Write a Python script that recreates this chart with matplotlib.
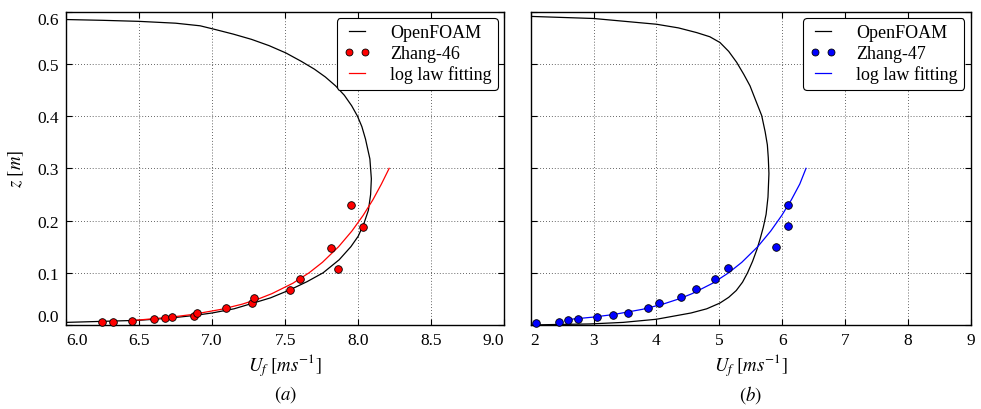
import matplotlib
matplotlib.use("Agg")
import matplotlib.pyplot as plt

# ---------------- data ----------------
# Panel (a)
foam_a_u = [6.00, 6.25, 6.50, 6.70, 6.87, 7.00, 7.15, 7.27, 7.40, 7.53, 7.65, 7.76,
            7.87, 7.95, 8.00, 8.04, 8.07, 8.085, 8.09, 8.08, 8.05, 8.025, 7.995, 7.955,
            7.905, 7.845, 7.775, 7.70, 7.61, 7.505, 7.39, 7.27, 7.146, 7.02, 6.918,
            6.75, 6.50, 6.25, 6.00]
foam_a_z = [0.005, 0.007, 0.009, 0.013, 0.018, 0.023, 0.031, 0.041, 0.052, 0.067, 0.083, 0.100,
            0.125, 0.150, 0.170, 0.195, 0.220, 0.250, 0.280, 0.318, 0.356, 0.380, 0.400, 0.420,
            0.440, 0.458, 0.475, 0.490, 0.505, 0.521, 0.535, 0.547, 0.557, 0.566, 0.573,
            0.578, 0.5815, 0.5835, 0.585]

zhang46_u = [6.244, 6.32, 6.452, 6.60, 6.678, 6.728, 6.877, 6.895, 7.094, 7.272, 7.288,
             7.53, 7.60, 7.817, 7.86, 7.954, 8.032]
zhang46_z = [0.005, 0.006, 0.008, 0.011, 0.013, 0.015, 0.018, 0.023, 0.032, 0.042, 0.052,
             0.0675, 0.0885, 0.148, 0.108, 0.229, 0.1885]

fit_a_u = [6.46, 6.515, 6.717, 6.861, 7.063, 7.207, 7.318, 7.409, 7.553, 7.664, 7.755,
           7.866, 7.957, 8.034, 8.101, 8.159, 8.212]
fit_a_z = [0.009, 0.010, 0.015, 0.020, 0.030, 0.040, 0.050, 0.060, 0.080, 0.100, 0.120,
           0.150, 0.180, 0.210, 0.240, 0.270, 0.300]

# Panel (b)
foam_b_u = [2.00, 2.41, 2.94, 3.47, 4.00, 4.55, 4.80, 5.01, 5.15, 5.27, 5.37, 5.45, 5.53,
            5.60, 5.65, 5.70, 5.745, 5.775, 5.79, 5.78, 5.765, 5.73, 5.675, 5.58, 5.489,
            5.39, 5.277, 5.15, 5.011, 4.85, 4.64, 4.35, 4.00, 3.00, 2.00]
foam_b_z = [0.000, 0.001, 0.002, 0.005, 0.011, 0.023, 0.031, 0.042, 0.053, 0.066, 0.082,
            0.100, 0.122, 0.145, 0.165, 0.187, 0.212, 0.245, 0.290, 0.320, 0.345, 0.370,
            0.401, 0.430, 0.458, 0.480, 0.503, 0.524, 0.541, 0.552, 0.560, 0.569, 0.576,
            0.587, 0.591]

zhang47_u = [2.08, 2.445, 2.598, 2.748, 3.05, 3.31, 3.543, 3.87, 4.046, 4.396, 4.634,
             4.932, 5.144, 5.907, 6.098, 6.094]
zhang47_z = [0.0044, 0.0063, 0.0088, 0.0107, 0.0145, 0.019, 0.023, 0.033, 0.043, 0.053, 0.069,
             0.089, 0.109, 0.150, 0.190, 0.2306]

fit_b_u = [2.633, 2.986, 3.315, 3.777, 4.105, 4.359, 4.567, 4.895, 5.149, 5.358, 5.612,
           5.819, 5.995, 6.148, 6.281, 6.38]
fit_b_z = [0.011, 0.015, 0.020, 0.030, 0.040, 0.050, 0.060, 0.080, 0.100, 0.120, 0.150,
           0.180, 0.210, 0.240, 0.270, 0.300]

xticks_a = [6.0, 6.5, 7.0, 7.5, 8.0, 8.5, 9.0]
xticks_b = [2, 3, 4, 5, 6, 7, 8, 9]
yticks = [0.0, 0.1, 0.2, 0.3, 0.4, 0.5, 0.6]

# ---------------- style ----------------
plt.rcParams['font.family'] = ['Liberation Serif', 'DejaVu Serif']
plt.rcParams['mathtext.fontset'] = 'stix'

TICK_FS = 12.5
LEG_FS = 13
LAB_FS = 13.5

fig = plt.figure(figsize=(9.81, 4.10), dpi=100)
ax1 = fig.add_axes([66 / 981, 84 / 410, (504.3 - 66) / 981, 313.3 / 410])
ax2 = fig.add_axes([530.7 / 981, 84 / 410, 440 / 981, 313.3 / 410])


def style(ax, xticks, xfmt, show_y):
    ax.set_ylim(0, 0.6)
    ax.set_xticks(xticks)
    ax.set_yticks(yticks)
    ax.set_xticklabels([xfmt.format(v) for v in xticks], fontsize=TICK_FS)
    if show_y:
        ax.set_yticklabels(["{:.1f}".format(v) for v in yticks], fontsize=TICK_FS)
    else:
        ax.set_yticklabels([])
    ax.tick_params(direction='in', top=True, right=True, length=4, width=0.8, pad=5)
    ax.grid(True, color='0.2', linestyle=(0, (1, 2.5)), linewidth=0.6)
    for s in ax.spines.values():
        s.set_linewidth(1.0)
        s.set_color('black')
    ax.set_xlabel(r'$U_f\ [ms^{-1}]$', fontsize=LAB_FS, labelpad=2)


def series(ax, fu, fz, du, dz, lu, lz, col, name):
    ax.plot(fu, fz, color='black', linewidth=0.9, label='OpenFOAM')
    ax.plot(du, dz, linestyle='none', marker='o', markersize=5.5, markerfacecolor=col,
            markeredgecolor='black', markeredgewidth=0.6, label=name, clip_on=False, zorder=4)
    ax.plot(lu, lz, color=col, linewidth=0.9, label='log law fitting', zorder=3)
    leg = ax.legend(loc='upper right', fontsize=LEG_FS, numpoints=2, fancybox=True,
                    handlelength=1.5, handletextpad=1.1, borderpad=0.35, labelspacing=0.2,
                    borderaxespad=0.35, framealpha=1.0)
    leg.get_frame().set_edgecolor('black')
    leg.get_frame().set_linewidth(0.8)
    for h in leg.legend_handles:
        try:
            h.set_markersize(5)
        except Exception:
            pass


series(ax1, foam_a_u, foam_a_z, zhang46_u, zhang46_z, fit_a_u, fit_a_z, 'red', 'Zhang-46')
series(ax2, foam_b_u, foam_b_z, zhang47_u, zhang47_z, fit_b_u, fit_b_z, 'blue', 'Zhang-47')
ax1.set_xlim(6.0, 9.0)
ax2.set_xlim(2, 9)
style(ax1, xticks_a, "{:.1f}", True)
style(ax2, xticks_b, "{:d}", False)
ax1.set_ylabel(r'$z\ [m]$', fontsize=LAB_FS, labelpad=8)

# edge tick labels aligned inside, as in the reference
xl = ax1.get_xticklabels()
xl[0].set_ha('left'); xl[-1].set_ha('right')
yl = ax1.get_yticklabels()
yl[0].set_va('bottom'); yl[-1].set_va('top')
ax2.get_xticklabels()[0].set_ha('left')

fig.text(ax1.get_position().x0 + ax1.get_position().width / 2, 15 / 410, r'$(a)$',
         ha='center', va='center', fontsize=LAB_FS)
fig.text(ax2.get_position().x0 + ax2.get_position().width / 2, 15 / 410, r'$(b)$',
         ha='center', va='center', fontsize=LAB_FS)

fig.savefig('out.png', dpi=100)
